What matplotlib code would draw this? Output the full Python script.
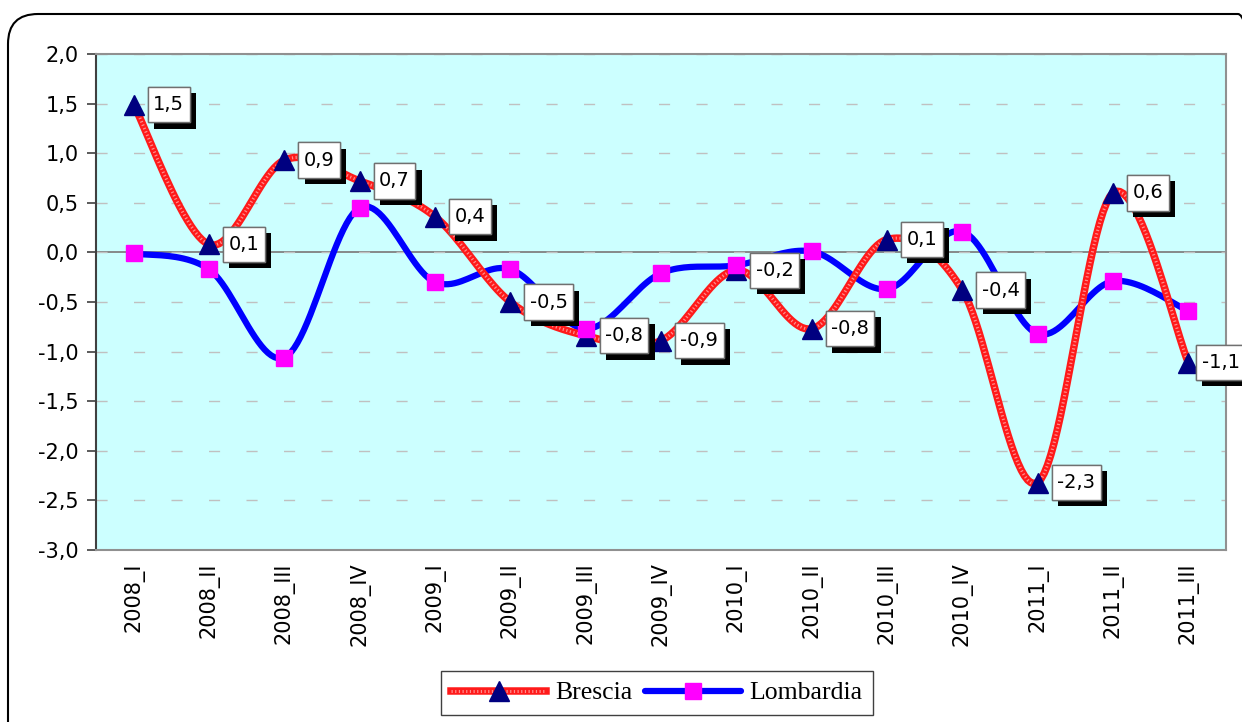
import numpy as np
import matplotlib.pyplot as plt
import matplotlib.patheffects as pe
from matplotlib.patches import FancyBboxPatch
from matplotlib.path import Path
from matplotlib.lines import Line2D
from matplotlib.ticker import FuncFormatter, MultipleLocator
from matplotlib.transforms import IdentityTransform

periodi = ['2008_I', '2008_II', '2008_III', '2008_IV',
           '2009_I', '2009_II', '2009_III', '2009_IV',
           '2010_I', '2010_II', '2010_III', '2010_IV',
           '2011_I', '2011_II', '2011_III']
brescia = [1.49, 0.08, 0.93, 0.72, 0.36, -0.50, -0.84, -0.89,
           -0.18, -0.77, 0.13, -0.38, -2.32, 0.60, -1.11]
lombardia = [-0.01, -0.17, -1.06, 0.45, -0.30, -0.17, -0.77, -0.21,
             -0.13, 0.01, -0.37, 0.21, -0.82, -0.29, -0.59]

ROSSO = '#ff1a1a'
BLU = '#0000ff'
NAVY = '#000080'
MAGENTA = '#ff00ff'


def virgola(v):
    return f"{v:.1f}".replace('.', ',')


def smooth(y, n=24):
    # bezier smoothing like the spreadsheet "smoothed line" option
    p = np.column_stack([np.arange(len(y), dtype=float), y])
    ext = np.vstack([p[0], p, p[-1]])
    t = np.linspace(0, 1, n)[1:, None]
    out = [p[0]]
    for i in range(len(p) - 1):
        p0, p1, p2, p3 = ext[i], ext[i + 1], ext[i + 2], ext[i + 3]
        c1 = p1 + (p2 - p0) / 6
        c2 = p2 - (p3 - p1) / 6
        seg = ((1 - t) ** 3 * p1 + 3 * (1 - t) ** 2 * t * c1
               + 3 * (1 - t) * t ** 2 * c2 + t ** 3 * p2)
        out.extend(seg)
    out = np.array(out)
    return out[:, 0], out[:, 1]


def box_etichetta(x0, y0, width, height, mutation_size):
    # rectangle with more padding top/bottom than left/right
    px, py = 0.28 * mutation_size, 0.42 * mutation_size
    x0, y0 = x0 - px, y0 - py
    x1, y1 = x0 + width + 2 * px, y0 + height + 2 * py
    return Path([(x0, y0), (x1, y0), (x1, y1), (x0, y1), (x0, y0)],
                closed=True)


fig = plt.figure(figsize=(12.42, 7.22), dpi=100)
ax = fig.add_axes([96 / 1242, 172 / 722, 1130 / 1242, 496 / 722])
ax.set_facecolor('#ccffff')

x = np.arange(len(periodi))

# grid and zero line
ax.set_ylim(-3, 2)
ax.set_xlim(-0.5, len(periodi) - 0.5)
ax.yaxis.set_major_locator(MultipleLocator(0.5))
ax.yaxis.set_major_formatter(FuncFormatter(lambda v, _: virgola(v)))
ax.grid(axis='y', color='#c0c0c0', lw=1, linestyle=(0, (8, 19)), zorder=0)
ax.axhline(0, color='#808080', lw=1.3, zorder=1)

# Lombardia line below, Brescia hatched line above
lx, ly = smooth(lombardia)
ax.plot(lx, ly, color=BLU, lw=4.5, solid_capstyle='round', zorder=2)
bx, by = smooth(brescia)
ax.plot(bx, by, color=ROSSO, lw=5.4, solid_capstyle='round', zorder=3)
ax.plot(bx, by, color='white', lw=2.2, alpha=0.5,
        linestyle=(0, (0.4, 0.8)), zorder=3)

ax.plot(x, brescia, ls='none', marker='^', ms=14, color=NAVY, zorder=4)
ax.plot(x, lombardia, ls='none', marker='s', ms=11.5, color=MAGENTA, zorder=5)

# value labels for Brescia (last one pulled in so it stays on the page)
for i, (xi, v) in enumerate(zip(x, brescia)):
    dx = 14 if i < len(brescia) - 1 else 9.5
    t = ax.annotate(virgola(v), (xi, v), xytext=(dx, 0),
                    textcoords='offset points', ha='left', va='center',
                    fontsize=14, zorder=6, annotation_clip=False,
                    bbox=dict(boxstyle=box_etichetta, fc='white',
                              ec='#707070', lw=1))
    t.get_bbox_patch().set_path_effects([
        pe.withSimplePatchShadow(offset=(4.5, -4.5), shadow_rgbFace='black',
                                 alpha=1),
        pe.Normal()])

ax.set_xticks(x)
ax.set_xticklabels(periodi, rotation=90, va='top', ha='center')
ax.tick_params(axis='x', length=0, pad=9, labelsize=15)
ax.tick_params(axis='y', length=6.5, width=1.2, color='#404040',
               labelsize=15, pad=6)

ax.spines['left'].set_color('#404040')
for s in ['top', 'right', 'bottom']:
    ax.spines[s].set_color('#909090')
for s in ax.spines.values():
    s.set_linewidth(1.5)

# legend at the bottom
h_bre = (Line2D([], [], color=ROSSO, lw=5.4),
         Line2D([], [], color='white', lw=2.2, alpha=0.5,
                linestyle=(0, (0.4, 0.8))),
         Line2D([], [], ls='none', marker='^', ms=14, color=NAVY))
h_lom = Line2D([], [], color=BLU, lw=4.5, marker='s', ms=11.5,
               markerfacecolor=MAGENTA, markeredgecolor=MAGENTA,
               solid_capstyle='round')
leg = fig.legend([h_bre, h_lom], ['Brescia', 'Lombardia'],
                 loc='center', bbox_to_anchor=(657 / 1242, 29 / 722),
                 ncol=2, fancybox=False, framealpha=1, edgecolor='#404040',
                 handlelength=3.7, handletextpad=0.35, columnspacing=0.5,
                 borderpad=0.4, prop={'family': 'Liberation Serif',
                                      'size': 18.5})
leg.get_frame().set_linewidth(1)

# rounded outer frame
cornice = FancyBboxPatch((8, -30), 1260, 738, boxstyle='round,pad=0,rounding_size=30',
                         transform=IdentityTransform(), fill=False,
                         ec='black', lw=1.5, clip_on=False)
fig.patches.append(cornice)

fig.savefig('out.png', dpi=100)
